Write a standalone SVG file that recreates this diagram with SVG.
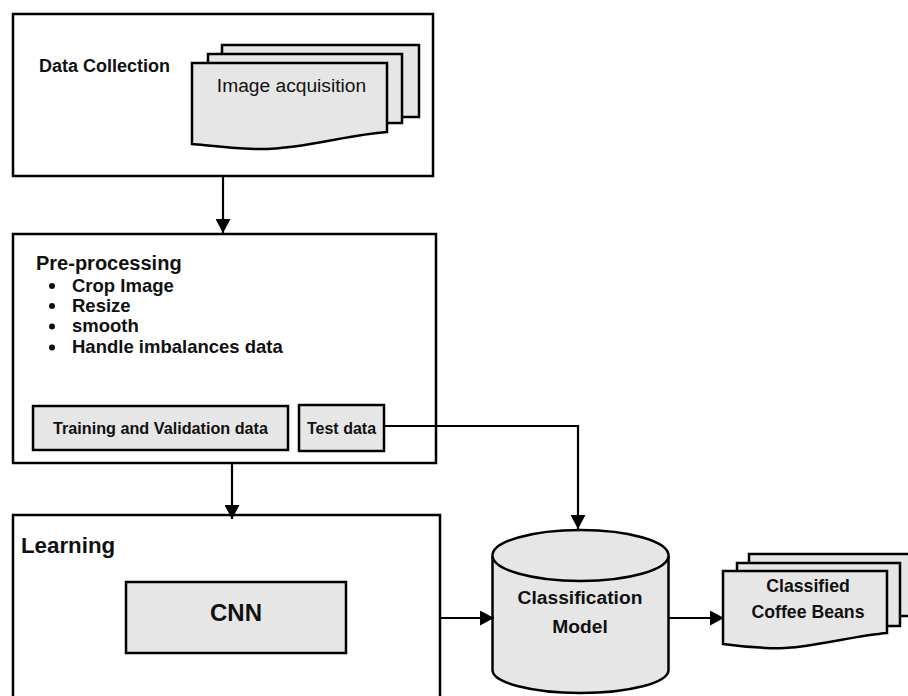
<svg xmlns="http://www.w3.org/2000/svg" width="908" height="696" viewBox="0 0 908 696">
  <style>
    .frame { fill: #ffffff; stroke: #000000; stroke-width: 2.5; }
    .shade { fill: #e6e6e6; stroke: #000000; stroke-width: 2.5; stroke-linejoin: miter; }
    .link { fill: none; stroke: #000000; stroke-width: 2.2; }
    .t { font-family: "Liberation Sans", Arial, sans-serif; fill: #111111; }
    .b { font-weight: bold; }
    .mid { text-anchor: middle; }
  </style>
  <defs>
    <marker id="arrow" markerUnits="userSpaceOnUse" markerWidth="15" markerHeight="15" refX="14" refY="7.5" orient="auto">
      <path d="M0,0 L14,7.5 L0,15 Z" fill="#000000"/>
    </marker>
  </defs>

  <rect width="908" height="696" fill="#ffffff"/>

  <!-- Data collection stage -->
  <g id="data-collection">
    <rect class="frame" x="13" y="14" width="420" height="162"/>
    <text class="t b" x="39" y="72" font-size="18">Data Collection</text>
    <g id="image-acquisition">
      <rect class="shade" x="222" y="45" width="197" height="72"/>
      <rect class="shade" x="208" y="54" width="194" height="69"/>
      <path class="shade" d="M192,63 H387 V132 C345,135 300,150 255,149 C225,148 205,145 192,144 Z"/>
      <text class="t mid" x="291.5" y="92" font-size="19.2">Image acquisition</text>
    </g>
  </g>

  <!-- Pre-processing stage -->
  <g id="pre-processing">
    <rect class="frame" x="13" y="234" width="423" height="229"/>
    <text class="t b" x="36" y="270" font-size="20">Pre-processing</text>
    <g fill="#111111">
      <circle cx="52" cy="286" r="3"/>
      <circle cx="52" cy="306" r="3"/>
      <circle cx="52" cy="326.5" r="3"/>
      <circle cx="52" cy="347.5" r="3"/>
    </g>
    <text class="t b" x="72" y="292" font-size="18.5">Crop Image</text>
    <text class="t b" x="72" y="312" font-size="18.5">Resize</text>
    <text class="t b" x="72" y="332" font-size="18.5">smooth</text>
    <text class="t b" x="72" y="353" font-size="18.5">Handle imbalances data</text>
    <g id="training-validation">
      <rect class="shade" x="33" y="406" width="255" height="44"/>
      <text class="t b mid" x="160.5" y="434" font-size="16.2">Training and Validation data</text>
    </g>
    <g id="test-data">
      <rect class="shade" x="299" y="405" width="85" height="46"/>
      <text class="t b mid" x="341.5" y="434" font-size="16">Test data</text>
    </g>
  </g>

  <!-- Learning stage -->
  <g id="learning">
    <rect class="frame" x="13" y="515" width="427" height="200"/>
    <text class="t b" x="21" y="553" font-size="22.3">Learning</text>
    <g id="cnn">
      <rect class="shade" x="126" y="582" width="220" height="71"/>
      <text class="t b mid" x="236" y="621" font-size="24">CNN</text>
    </g>
  </g>

  <!-- Classification model store -->
  <g id="classification-model">
    <path class="shade" d="M492.5,555.5 V670 A88,23 0 0 0 668.5,670 V555.5 A88,25.5 0 0 0 492.5,555.5 Z"/>
    <path class="shade" d="M492.5,555.5 A88,25.5 0 0 0 668.5,555.5" fill="none"/>
    <text class="t b mid" x="580" y="604" font-size="19.2">Classification</text>
    <text class="t b mid" x="580" y="633" font-size="19.2">Model</text>
  </g>

  <!-- Output documents -->
  <g id="classified-beans">
    <rect class="shade" x="749" y="554" width="170" height="62"/>
    <rect class="shade" x="737" y="563" width="163" height="63"/>
    <path class="shade" d="M723,571 H887 V633 C850,636 805,650 767,648 C745,647 730,645 723,644 Z"/>
    <text class="t b mid" x="808" y="592" font-size="17.7">Classified</text>
    <text class="t b mid" x="808" y="618" font-size="17.7">Coffee Beans</text>
  </g>

  <!-- Connectors -->
  <g id="connectors">
    <path class="link" d="M223,176 V233" marker-end="url(#arrow)"/>
    <path class="link" d="M232,463 V519" marker-end="url(#arrow)"/>
    <path class="link" d="M384,426 H578 V529" marker-end="url(#arrow)"/>
    <path class="link" d="M440,618 H494" marker-end="url(#arrow)"/>
    <path class="link" d="M669,618 H724" marker-end="url(#arrow)"/>
  </g>
</svg>
